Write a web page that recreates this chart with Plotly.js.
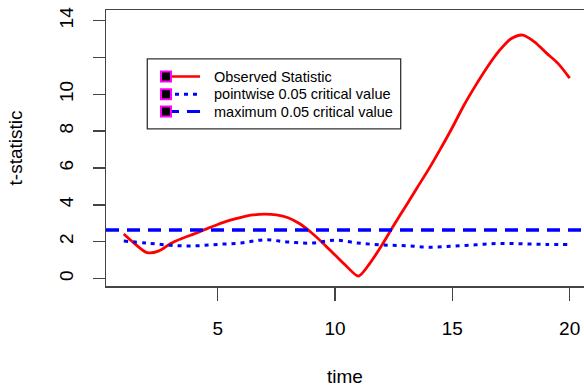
<!DOCTYPE html>
<html>
<head>
<meta charset="utf-8">
<script src="https://cdn.plot.ly/plotly-3.0.1.min.js"></script>
<style>html,body{margin:0;padding:0;background:#fff;}#chart{width:584px;height:387px;}</style>
</head>
<body>
<div id="chart"></div>
<script>
// Observed statistic (time on a 0.5 grid)
const timeFine = [1,1.5,2,2.5,3,3.5,4,4.5,5,5.5,6,6.5,7,7.5,8,8.5,9,9.5,10,10.5,11,11.5,12,12.5,13,13.5,14,14.5,15,15.5,16,16.5,17,17.5,18,18.5,19,19.5,20];
const observed = [2.41,1.85,1.40,1.50,1.90,2.18,2.42,2.68,2.93,3.15,3.32,3.45,3.49,3.45,3.30,2.97,2.48,1.90,1.27,0.65,0.13,0.85,1.82,2.88,3.90,4.93,5.95,7.05,8.20,9.42,10.50,11.50,12.37,13.02,13.22,12.85,12.25,11.68,10.88];
// Pointwise 0.05 critical value (integer times)
const timeInt = [1,2,3,4,5,6,7,8,9,10,11,12,13,14,15,16,17,18,19,20];
const pointwise = [2.03,1.92,1.80,1.77,1.85,1.93,2.10,1.98,1.92,2.08,1.92,1.82,1.78,1.70,1.75,1.83,1.90,1.88,1.85,1.85];
// Maximum 0.05 critical value
const maxCrit = 2.63;
// Axis ticks
const xTicks = [5,10,15,20];
const yTicks = [0,2,4,6,8,10,12,14];
const yTickText = ['0','2','4','6','8','10','','14'];
const legendLabels = ['Observed Statistic','pointwise 0.05 critical value','maximum 0.05 critical value'];

const FONT = 'Liberation Sans, Arial, sans-serif';

const traces = [
  {x: timeFine, y: observed, mode: 'lines', line: {color: '#ff0000', width: 2.8, shape: 'spline', smoothing: 0.8}, showlegend: false, hoverinfo: 'skip'},
  {x: timeInt, y: pointwise, mode: 'lines', line: {color: '#0000ff', width: 3, dash: '4px,5px', shape: 'spline', smoothing: 1}, showlegend: false, hoverinfo: 'skip'}
];

// legend geometry (paper coords)
const legRows = [0.759, 0.695, 0.632];
const legStyles = [
  {color: '#ff0000', dash: 'solid', width: 2.5},
  {color: '#0000ff', dash: '4px,5px', width: 3},
  {color: '#0000ff', dash: '13px,8px', width: 3}
];
const shapes = [
  {type: 'line', xref: 'paper', yref: 'y', x0: 0, x1: 1, y0: maxCrit, y1: maxCrit, line: {color: '#0000ff', width: 3.5, dash: '13px,8px'}},
  {type: 'rect', xref: 'paper', yref: 'paper', x0: 0.0864, x1: 0.6165, y0: 0.569, y1: 0.8232, line: {color: '#333', width: 1.3}, fillcolor: 'rgba(255,255,255,0)'}
];
const annotations = [];
legRows.forEach((ry, i) => {
  shapes.push({type: 'line', xref: 'paper', yref: 'paper', x0: 0.1255, x1: 0.1967, y0: ry, y1: ry, line: legStyles[i]});
  shapes.push({type: 'rect', xref: 'paper', yref: 'paper', xsizemode: 'pixel', ysizemode: 'pixel', xanchor: 0.1255, yanchor: ry, x0: -5, x1: 5, y0: -5, y1: 5, fillcolor: '#000', line: {color: '#ff00ff', width: 2}});
  annotations.push({xref: 'paper', yref: 'paper', x: 0.2218, y: ry, xanchor: 'left', yanchor: 'middle', text: legendLabels[i], showarrow: false, font: {family: FONT, size: 14.5, color: '#000'}});
});

const layout = {
  width: 584, height: 387,
  margin: {l: 106, r: 0, t: 10, b: 101, pad: 0},
  paper_bgcolor: '#fff', plot_bgcolor: '#fff',
  font: {family: FONT, color: '#000'},
  showlegend: false,
  xaxis: {
    range: [0.242, 20.61], tickvals: xTicks, ticktext: xTicks.map(String),
    ticks: 'outside', ticklen: 13, tickwidth: 1.5, tickcolor: '#444',
    showline: true, mirror: true, linecolor: '#444', linewidth: 1.5,
    showgrid: false, zeroline: false, ticklabelstandoff: 12,
    tickfont: {family: FONT, size: 19, color: '#000'},
    title: {text: 'time', font: {family: FONT, size: 19, color: '#000'}, standoff: 31}
  },
  yaxis: {
    range: [-0.41, 14.58], tickvals: yTicks, ticktext: yTickText, tickangle: -90,
    ticks: 'outside', ticklen: 12, tickwidth: 1.5, tickcolor: '#444',
    showline: true, mirror: false, linecolor: '#444', linewidth: 1.5,
    showgrid: false, zeroline: false, ticklabelstandoff: 12,
    tickfont: {family: FONT, size: 19, color: '#000'},
    title: {text: 't-statistic', font: {family: FONT, size: 19, color: '#000'}, standoff: 28}
  },
  shapes: shapes,
  annotations: annotations
};

Plotly.newPlot('chart', traces, layout, {displayModeBar: false, staticPlot: true});
</script>
</body>
</html>
